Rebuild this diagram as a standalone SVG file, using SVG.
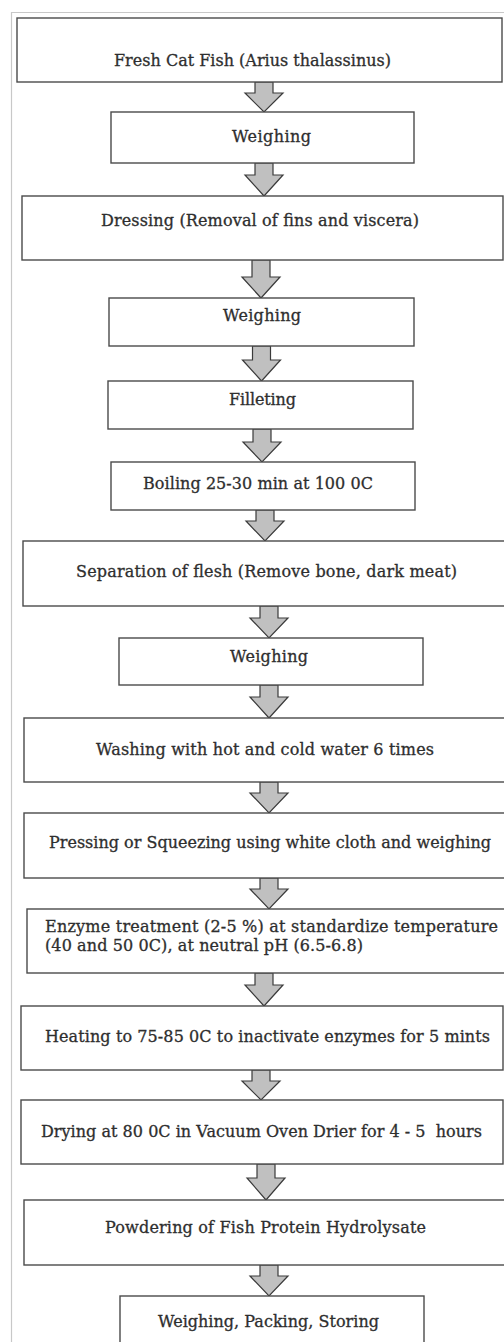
<svg xmlns="http://www.w3.org/2000/svg" width="504" height="1342" viewBox="0 0 504 1342">
<style>
.frame{fill:none;stroke:#c8c8c8;stroke-width:1.2}
.box{fill:#ffffff;stroke:#4a4a4a;stroke-width:1.4}
.arr{fill:#c0c0c0;stroke:#3a3a3a;stroke-width:1.2;stroke-linejoin:miter}
.t{font-family:"DejaVu Serif","Liberation Serif",serif;font-size:16px;fill:#2e2e2e;stroke:#2e2e2e;stroke-width:0.3}
</style>
<rect x="0" y="0" width="504" height="1342" fill="#ffffff"/>
<path class="frame" d="M11.5 1342 V12.5 H504"/>
<g id="connectors">
<path class="arr" d="M255 82 H273 V93 H283 L264 112 L245 93 H255 Z"/>
<path class="arr" d="M255 163 H273 V175 H283 L264 196 L245 175 H255 Z"/>
<path class="arr" d="M252 260 H270 V277 H280 L261 298 L242 277 H252 Z"/>
<path class="arr" d="M252.5 346 H270.5 V360 H280.5 L261.5 381 L242.5 360 H252.5 Z"/>
<path class="arr" d="M253 429 H271 V442 H281 L262 462 L243 442 H253 Z"/>
<path class="arr" d="M256 510 H274 V521 H284 L265 541 L246 521 H256 Z"/>
<path class="arr" d="M260 606 H278 V618 H288 L269 638 L250 618 H260 Z"/>
<path class="arr" d="M260 685 H278 V697 H288 L269 718 L250 697 H260 Z"/>
<path class="arr" d="M260 782 H278 V793 H288 L269 813 L250 793 H260 Z"/>
<path class="arr" d="M260 878 H278 V889 H288 L269 909 L250 889 H260 Z"/>
<path class="arr" d="M255 973 H273 V985 H283 L264 1006 L245 985 H255 Z"/>
<path class="arr" d="M252 1070 H270 V1081 H280 L261 1100 L242 1081 H252 Z"/>
<path class="arr" d="M257 1164 H275 V1178 H285 L266 1200 L247 1178 H257 Z"/>
<path class="arr" d="M260 1265 H278 V1276 H288 L269 1296 L250 1276 H260 Z"/>
</g>
<g id="n1"><rect class="box" x="17" y="18" width="485" height="64"/><text class="t" x="114" y="66" textLength="277">Fresh Cat Fish (Arius thalassinus)</text></g>
<g id="n2"><rect class="box" x="111" y="112" width="303" height="51"/><text class="t" x="232" y="142" textLength="79">Weighing</text></g>
<g id="n3"><rect class="box" x="22" y="196" width="481" height="64"/><text class="t" x="101" y="226" textLength="318">Dressing (Removal of fins and viscera)</text></g>
<g id="n4"><rect class="box" x="109" y="298" width="305" height="48"/><text class="t" x="223" y="321" textLength="78">Weighing</text></g>
<g id="n5"><rect class="box" x="108" y="381" width="305" height="48"/><text class="t" x="229" y="405" textLength="67">Filleting</text></g>
<g id="n6"><rect class="box" x="111" y="462" width="304" height="48"/><text class="t" x="143" y="489" textLength="230">Boiling 25-30 min at 100 0C</text></g>
<g id="n7"><rect class="box" x="23" y="541" width="485" height="65"/><text class="t" x="76" y="577" textLength="381">Separation of flesh (Remove bone, dark meat)</text></g>
<g id="n8"><rect class="box" x="119" y="638" width="304" height="47"/><text class="t" x="230" y="662" textLength="78">Weighing</text></g>
<g id="n9"><rect class="box" x="24" y="718" width="484" height="64"/><text class="t" x="96" y="755" textLength="338">Washing with hot and cold water 6 times</text></g>
<g id="n10"><rect class="box" x="24" y="813" width="484" height="65"/><text class="t" x="49" y="848" textLength="442">Pressing or Squeezing using white cloth and weighing</text></g>
<g id="n11"><rect class="box" x="27" y="909" width="481" height="64"/><text class="t" x="45" y="932" textLength="453">Enzyme treatment (2-5 %) at standardize temperature</text><text class="t" x="45" y="951" textLength="318">(40 and 50 0C), at neutral pH (6.5-6.8)</text></g>
<g id="n12"><rect class="box" x="21" y="1006" width="482" height="64"/><text class="t" x="45" y="1042" textLength="445">Heating to 75-85 0C to inactivate enzymes for 5 mints</text></g>
<g id="n13"><rect class="box" x="21" y="1100" width="482" height="64"/><text class="t" x="41" y="1137" textLength="441" xml:space="preserve">Drying at 80 0C in Vacuum Oven Drier for 4 - 5  hours</text></g>
<g id="n14"><rect class="box" x="24" y="1200" width="484" height="65"/><text class="t" x="105" y="1233" textLength="321">Powdering of Fish Protein Hydrolysate</text></g>
<g id="n15"><rect class="box" x="120" y="1296" width="304" height="60"/><text class="t" x="158" y="1327" textLength="221">Weighing, Packing, Storing</text></g>
</svg>
